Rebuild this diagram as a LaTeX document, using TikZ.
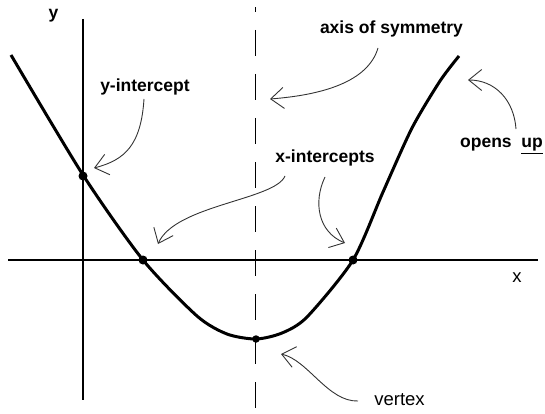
\documentclass[tikz,border=0pt]{standalone}
\usepackage{fontspec}
\setmainfont{Liberation Sans}
\usetikzlibrary{arrows.meta}
\tikzset{
  axisline/.style={line width=2.8pt},
  curveline/.style={line width=3pt, line join=round},
  symline/.style={line width=1.4pt, dash pattern=on 26pt off 18pt, dash phase=14pt},
  dot/.style={circle, fill=black, inner sep=0pt, minimum size=#1},
  dot/.default=9pt,
  lbl/.style={inner sep=0pt, anchor=base, font=\fontsize{17.5}{21}\selectfont\bfseries},
  lblr/.style={inner sep=0pt, anchor=base, font=\fontsize{18.5}{21}\selectfont},
  pointer/.style={line width=0.9pt, draw=black!80, -{Straight Barb[length=13pt,width=21pt,line width=0.9pt]}},
}
\begin{document}
\begin{tikzpicture}[x=1pt,y=-1pt]
\useasboundingbox (0,0) rectangle (545,414);
% axes
\draw[axisline] (83,19) -- (83,400);
\draw[axisline] (8,260) -- (538,260);
\begin{scope}
\clip (0,8) rectangle (545,414);
\draw[symline] (255.5,0) -- (255.5,414);
\end{scope}
% parabola
\draw[curveline] plot[smooth, tension=0.45] coordinates {(11,55) (83,175) (143,260) (197,316) (227,334) (256,339) (282,333) (307,317) (353,260) (383,192) (412,128) (440,81) (459,56)};
% points
\node[dot] (yint) at (83,176) {};
\node[dot] (xl) at (143,260) {};
\node[dot] (xr) at (353,260) {};
\node[dot=7.5pt] (vx) at (256,339) {};
% labels
\node[lbl] (ylab) at (53.5,19) {y};
\node[lblr] (xlab) at (517,282) {x};
\node[lbl] (yintlab) at (145,92) {y-intercept};
\node[lbl] (axlab) at (391.5,34) {axis of symmetry};
\node[lbl] (oplab) at (501.5,148) {opens\ \ \underline{up}};
\node[lbl] (xintlab) at (325,162) {x-intercepts};
\node[lblr] (vxlab) at (399.5,405) {vertex};
% pointer ends
\coordinate (t1) at (144,99);
\coordinate (h1) at (94,168);
\coordinate (t2) at (378,48);
\coordinate (h2) at (270,99);
\coordinate (t3) at (516,129);
\coordinate (h3) at (468,80);
\coordinate (t4) at (285,176);
\coordinate (h4) at (158,244);
\coordinate (t5) at (325,177);
\coordinate (h5) at (345,243);
\coordinate (t6) at (358,401);
\coordinate (h6) at (281,354);
% pointers
\draw[pointer] (t1) .. controls (141,145) and (125,160) .. (h1);
\draw[pointer] (t2) .. controls (368,82) and (322,95) .. (h2);
\draw[pointer] (t3) .. controls (514,100) and (495,80) .. (h3);
\draw[pointer] (t4) .. controls (275,200) and (175,205) .. (h4);
\draw[pointer] (t5) .. controls (313,202) and (318,232) .. (h5);
\draw[pointer] (t6) .. controls (328,402) and (308,360) .. (h6);
\end{tikzpicture}
\end{document}
